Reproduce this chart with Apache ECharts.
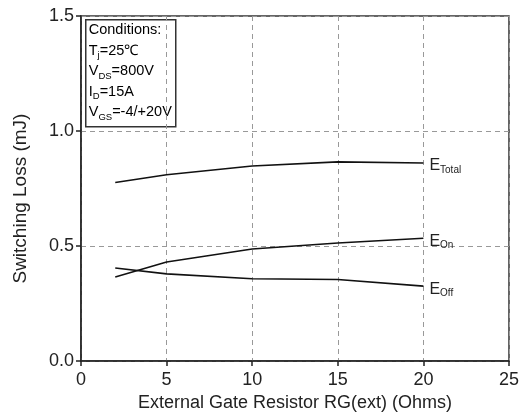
<!DOCTYPE html>
<html><head><meta charset="utf-8">
<script src="https://cdn.jsdelivr.net/npm/echarts@6/dist/echarts.min.js"></script>
<style>html,body{margin:0;padding:0;background:#fff}#c{width:522px;height:417px}</style>
</head><body><div id="c"></div>
<script>
const rg = [2, 5, 10, 15, 20];
const eTotal = [0.776, 0.81, 0.848, 0.866, 0.861];
const eOn = [0.366, 0.431, 0.487, 0.513, 0.534];
const eOff = [0.405, 0.379, 0.358, 0.355, 0.326];
const xTicks = [0, 5, 10, 15, 20, 25];
const yTicks = [0.0, 0.5, 1.0, 1.5];

const font = 'Liberation Sans, Arial, sans-serif';
const subRich = {
  m: {fontSize: 16, fontFamily: font, color: '#222'},
  s: {fontSize: 10, fontFamily: font, color: '#222', padding: [9, 0, 0, 0]}
};
function mk(name, sub, vals) {
  return {
    type: 'line', data: rg.map((x, i) => [x, vals[i]]),
    symbol: 'none', lineStyle: {color: '#111', width: 1.6},
    endLabel: {show: true, formatter: '{m|' + name + '}{s|' + sub + '}', rich: subRich, distance: 6, offset: [0, 3]},
    z: 3
  };
}
const chart = echarts.init(document.getElementById('c'));
chart.setOption({
  animation: false,
  grid: {left: 81, right: 9, top: 16, bottom: 53, show: true, borderColor: '#333', borderWidth: 1.5, backgroundColor: 'transparent'},
  xAxis: {
    type: 'value', min: 0, max: 25, interval: 5,
    name: 'External Gate Resistor RG(ext) (Ohms)', nameLocation: 'middle', nameGap: 25,
    nameTextStyle: {fontFamily: font, fontSize: 18, color: '#222'},
    axisLine: {lineStyle: {color: '#222', width: 1.5}},
    axisTick: {inside: false, length: 5, lineStyle: {color: '#222', width: 1.5}},
    axisLabel: {fontFamily: font, fontSize: 18, color: '#222', margin: 10, formatter: v => xTicks.includes(v) ? String(v) : ''},
    splitLine: {show: true, lineStyle: {type: [5, 4], color: '#999', width: 1}}
  },
  yAxis: {
    type: 'value', min: 0, max: 1.5, interval: 0.5,
    name: 'Switching Loss (mJ)', nameLocation: 'middle', nameGap: 51,
    nameTextStyle: {fontFamily: font, fontSize: 19, color: '#222', padding: [0, 20, 0, 0]},
    axisLine: {show: true, lineStyle: {color: '#222', width: 1.5}},
    axisTick: {show: true, inside: false, length: 5, lineStyle: {color: '#222', width: 1.5}},
    axisLabel: {fontFamily: font, fontSize: 18, color: '#222', margin: 7, formatter: v => { const t = yTicks.find(y => Math.abs(y - v) < 1e-9); return t === undefined ? '' : t.toFixed(1); }},
    splitLine: {show: true, lineStyle: {type: [5, 4], color: '#999', width: 1}}
  },
  series: [mk('E', 'Total', eTotal), mk('E', 'On', eOn), mk('E', 'Off', eOff)],
  graphic: [{
    type: 'group', left: 85, top: 19, z: 10,
    children: [
      {type: 'rect', shape: {x: 0, y: 0, width: 90, height: 107}, style: {fill: '#fff', stroke: '#333', lineWidth: 1.5}},
      {type: 'text', left: 3, top: 3, style: {
        text: '{m|Conditions:}\n{m|T}{s|j}{m|=25℃}\n{m|V}{s|DS}{m|=800V}\n{m|I}{s|D}{m|=15A}\n{m|V}{s|GS}{m|=-4/+20V}',
        rich: {m: {fontSize: 14.5, fontFamily: font, color: '#222', lineHeight: 20.5}, s: {fontSize: 9.5, fontFamily: font, color: '#222', padding: [10, 0, 0, 0], lineHeight: 20.5}}
      }}
    ]
  }]
});
</script></body></html>
